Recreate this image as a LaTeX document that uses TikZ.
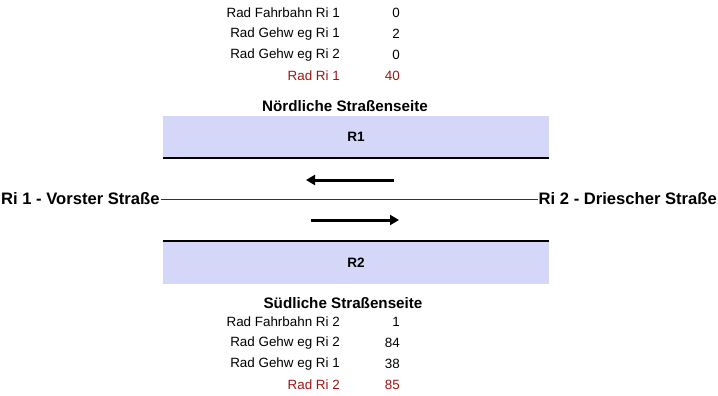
\documentclass[tikz,border=0pt]{standalone}
\usepackage{fontspec}
\setmainfont{Liberation Sans}
\usetikzlibrary{arrows.meta, positioning}

\definecolor{lanefill}{RGB}{212,215,247}
\definecolor{sumred}{RGB}{160,20,20}

\begin{document}
\begin{tikzpicture}[
    x=1pt, y=-1pt,
    font=\fontsize{13.4}{15}\selectfont,
    lbl/.style={anchor=east, inner sep=0pt},
    val/.style={anchor=east, inner sep=0pt},
    sum/.style={text=sumred},
    head/.style={font=\fontsize{15.2}{17}\selectfont\bfseries, inner sep=0pt},
    side/.style={font=\fontsize{16.6}{18}\selectfont\bfseries, inner sep=1pt},
    lane/.style={
      fill=lanefill,
      minimum width=386pt, minimum height=42pt,
      font=\fontsize{13.6}{15}\selectfont\bfseries
    },
    curb/.style={line width=2.2pt},
    axis/.style={line width=0.6pt, black!80},
    flow/.style={-{Triangle[length=9pt, width=10pt]}, line width=3pt}
  ]
  \useasboundingbox (0,0) rectangle (718,396);

  % ===== Nord =====
  \node[lbl] (n1) at (340,13) {Rad Fahrbahn Ri 1};
  \node[lbl] (n2) at (340,34) {Rad Gehw eg Ri 1};
  \node[lbl] (n3) at (340,55) {Rad Gehw eg Ri 2};
  \node[lbl, sum] (n4) at (340,76) {Rad Ri 1};
  \node[val] (nv1) at (400,13) {0};
  \node[val] (nv2) at (400,34) {2};
  \node[val] (nv3) at (400,55) {0};
  \node[val, sum] (nv4) at (400,76) {40};

  \node[head] (nord) at (345,106) {Nördliche Straßenseite};
  \node[lane] (r1) at (356,136.5) {R1};
  \draw[curb] (r1.south west) -- (r1.south east);

  % ===== Strasse =====
  \node[side, anchor=west] (west) at (0,199) {Ri 1 - Vorster Straße};
  \node[side, anchor=east] (east) at (718,199) {Ri 2 - Driescher Straße};
  \draw[axis] (west.east) -- (east.west);

  \coordinate (ri1a) at (394,180);
  \coordinate (ri1b) at (306,180);
  \coordinate (ri2a) at (311,220);
  \coordinate (ri2b) at (399,220);
  \draw[flow] (ri1a) -- (ri1b);
  \draw[flow] (ri2a) -- (ri2b);

  % ===== Sued =====
  \node[lane] (r2) at (356,262.5) {R2};
  \draw[curb] (r2.north west) -- (r2.north east);
  \node[head] (sued) at (343,303) {Südliche Straßenseite};

  \node[lbl] (s1) at (340,322) {Rad Fahrbahn Ri 2};
  \node[lbl] (s2) at (340,343) {Rad Gehw eg Ri 2};
  \node[lbl] (s3) at (340,364) {Rad Gehw eg Ri 1};
  \node[lbl, sum] (s4) at (340,385) {Rad Ri 2};
  \node[val] (sv1) at (400,322) {1};
  \node[val] (sv2) at (400,343) {84};
  \node[val] (sv3) at (400,364) {38};
  \node[val, sum] (sv4) at (400,385) {85};
\end{tikzpicture}
\end{document}
